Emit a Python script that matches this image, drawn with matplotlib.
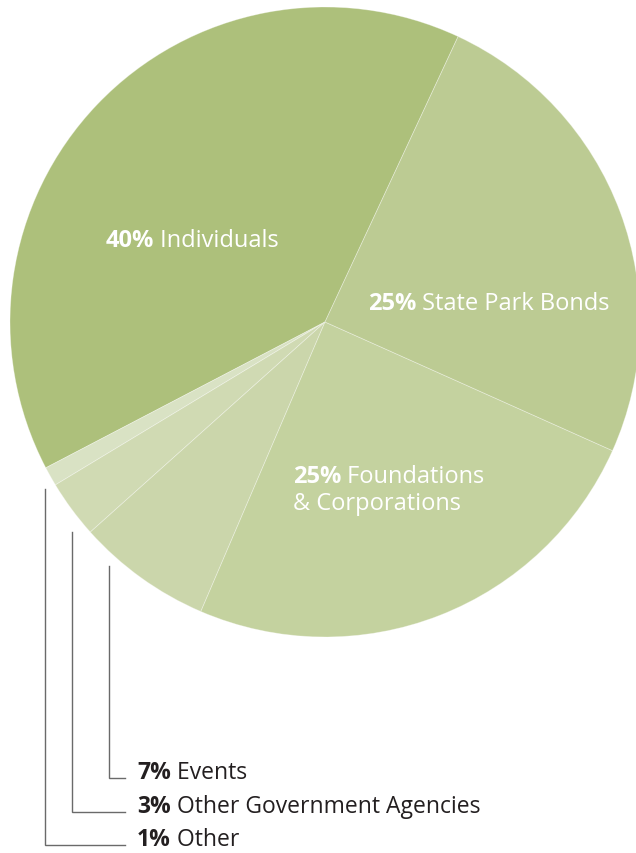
import matplotlib.pyplot as plt

# funding sources, counter-clockwise from the top
shares = [40, 1, 3, 7, 25, 25]
names = ['Individuals', 'Other', 'Other Government Agencies', 'Events',
         'Foundations\n& Corporations', 'State Park Bonds']
colors = ['#adc07b', '#d9e2c4', '#d0dab3', '#cbd6ab', '#c4d29f', '#bccb93']

W, H = 636, 854
plt.rcParams['font.family'] = ['Open Sans', 'DejaVu Sans']

fig = plt.figure(figsize=(W / 100, H / 100), dpi=100)
ax = fig.add_axes([0, 0, 1, 1])

cx, cy, r = 325, H - 323, 315
ax.pie(shares, colors=colors, startangle=65, counterclock=True,
       center=(cx, cy), radius=r,
       wedgeprops=dict(edgecolor=(1, 1, 1, 0.35), linewidth=0.6))
ax.set_xlim(0, W)
ax.set_ylim(0, H)
ax.set_aspect('equal')
ax.axis('off')


def label(x, y, pct, name, size, color, lead=27):
    # bold percent followed by the regular name
    y = H - y
    lines = name.split('\n')
    t = ax.text(x, y, pct, fontsize=size, fontweight='bold', color=color,
                ha='left', va='baseline')
    ax.annotate(' ' + lines[0], xy=(1, 0), xycoords=t, fontsize=size,
                color=color, ha='left', va='bottom')
    for k, line in enumerate(lines[1:], 1):
        ax.text(x, y - k * lead, line, fontsize=size, color=color,
                ha='left', va='baseline')


# labels inside the pie
inside = {0: (106, 247), 5: (368, 310), 4: (293, 483)}
for i, (x, y) in inside.items():
    label(x, y, f'{shares[i]}%', names[i], 17, 'white')

# small slices, with leader lines
outside = {3: (109, 567, 779), 2: (72, 533, 813), 1: (45, 490, 846)}
for i, (lx, top, base) in outside.items():
    ax.plot([lx, lx, 125], [H - top, H - base, H - base],
            color='#6a6a6a', lw=1.0, solid_joinstyle='miter')
    label(137, base, f'{shares[i]}%', names[i], 16.5, '#231f20')

fig.savefig('out.png', dpi=100)
